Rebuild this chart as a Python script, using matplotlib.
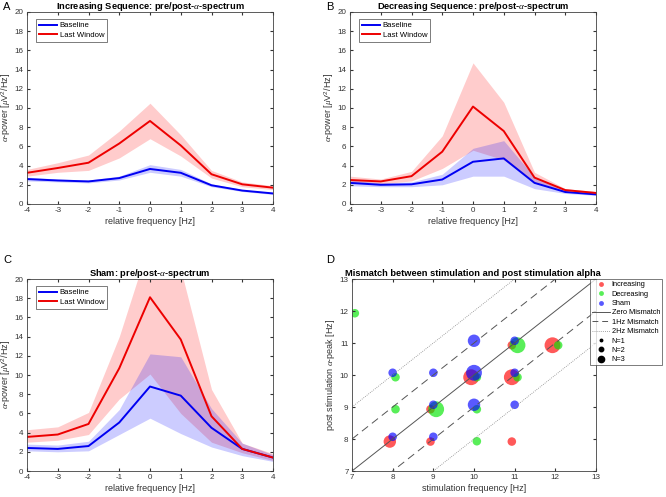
import matplotlib.pyplot as plt
import numpy as np
from matplotlib.lines import Line2D

# relative frequency axis shared by the three spectrum panels
freq = [-4, -3, -2, -1, 0, 1, 2, 3, 4]

# panel A - increasing sequence
inc_base = [2.6, 2.45, 2.35, 2.7, 3.65, 3.25, 1.95, 1.4, 1.1]
inc_base_lo = [2.4, 2.3, 2.2, 2.5, 3.3, 2.9, 1.8, 1.3, 1.0]
inc_base_hi = [2.8, 2.6, 2.5, 2.9, 4.1, 3.6, 2.1, 1.5, 1.2]
inc_last = [3.25, 3.75, 4.3, 6.3, 8.65, 6.1, 3.1, 2.05, 1.7]
inc_last_lo = [2.9, 3.3, 3.5, 4.8, 6.8, 5.0, 2.7, 1.8, 1.5]
inc_last_hi = [3.6, 4.3, 5.1, 7.6, 10.5, 7.2, 3.5, 2.3, 1.9]

# panel B - decreasing sequence
dec_base = [2.2, 2.0, 2.05, 2.55, 4.4, 4.75, 2.2, 1.25, 1.0]
dec_base_lo = [1.9, 1.8, 1.8, 2.0, 2.9, 2.9, 1.6, 1.1, 0.9]
dec_base_hi = [2.5, 2.2, 2.3, 3.1, 5.8, 6.6, 2.8, 1.4, 1.1]
dec_last = [2.5, 2.35, 2.9, 5.45, 10.15, 7.6, 2.75, 1.45, 1.15]
dec_last_lo = [2.2, 2.1, 2.4, 3.7, 5.6, 4.6, 2.2, 1.3, 1.0]
dec_last_hi = [2.9, 2.6, 3.4, 7.1, 14.7, 10.6, 3.3, 1.6, 1.3]

# panel C - sham
sham_base = [2.4, 2.3, 2.6, 5.05, 8.8, 7.85, 4.5, 2.3, 1.4]
sham_base_lo = [2.1, 2.0, 2.1, 3.8, 5.5, 3.9, 2.5, 1.6, 1.0]
sham_base_hi = [2.8, 2.7, 3.1, 6.4, 12.2, 11.9, 6.5, 2.9, 1.7]
sham_last = [3.55, 3.8, 4.9, 10.7, 18.1, 13.7, 5.7, 2.3, 1.4]
sham_last_lo = [3.0, 3.2, 3.8, 7.5, 10.1, 6.0, 3.0, 1.9, 1.1]
sham_last_hi = [4.3, 4.6, 6.1, 14.0, 24.0, 21.0, 8.5, 2.9, 1.8]

# panel D - stimulation vs post-stimulation peak (x, y, N)
inc_x = [7.93, 8.93, 8.93, 9.93, 10.93, 10.93, 11.93, 10.93]
inc_y = [7.92, 7.92, 8.93, 9.93, 9.93, 10.93, 10.93, 7.92]
inc_n = [2, 1, 1, 3, 3, 1, 3, 1]
dec_x = [7.07, 8.07, 8.07, 9.07, 10.07, 10.07, 10.07, 11.07, 11.07, 12.07]
dec_y = [11.93, 9.93, 8.93, 8.93, 9.93, 8.93, 7.93, 10.93, 9.93, 10.93]
dec_n = [1, 1, 1, 3, 1, 1, 1, 3, 1, 1]
sham_x = [8, 8, 9, 9, 9, 10, 10, 10, 11, 11, 11]
sham_y = [10.07, 8.07, 10.07, 9.07, 8.07, 11.07, 10.07, 9.07, 11.07, 10.07, 9.07]
sham_n = [1, 1, 1, 1, 1, 2, 3, 2, 1, 1, 1]

plt.rcParams['font.family'] = ['Liberation Sans', 'DejaVu Sans']
plt.rcParams['mathtext.fontset'] = 'custom'
plt.rcParams['mathtext.rm'] = 'Liberation Sans'
plt.rcParams['mathtext.it'] = 'Liberation Serif:italic'
plt.rcParams['mathtext.bf'] = 'Liberation Sans:bold'
plt.rcParams['axes.unicode_minus'] = False

fig = plt.figure(figsize=(6.66, 4.97), dpi=100)
W, H = 666.0, 497.0

TICK_FS = 5.8
LAB_FS = 6.5
TITLE_FS = 6.7
LEG_FS = 5.6
TXT = '#333333'


def add_ax(l, t, r, b):
    return fig.add_axes([l / W, 1 - b / H, (r - l) / W, (b - t) / H])


def style(ax):
    ax.tick_params(direction='in', labelsize=TICK_FS, colors=TXT, length=2.5,
                   top=True, right=True, pad=2.5)
    for s in ax.spines.values():
        s.set_color('#404040')
        s.set_linewidth(0.6)


ylab = r'$\alpha$-power [$\mu$V$^2$/Hz]'


def spectrum(ax, title, base, blo, bhi, last, llo, lhi):
    ax.fill_between(freq, llo, lhi, color=(1, 0, 0), alpha=0.2, lw=0)
    ax.fill_between(freq, blo, bhi, color=(0, 0, 1), alpha=0.2, lw=0)
    ax.plot(freq, base, color=(0, 0, 0.95), lw=1.4, label='Baseline')
    ax.plot(freq, last, color=(0.93, 0, 0), lw=1.4, label='Last Window')
    ax.set_xlim(-4, 4)
    ax.set_ylim(0, 20)
    ax.set_xticks(freq)
    ax.set_yticks(np.arange(0, 21, 2))
    ax.set_xlabel('relative frequency [Hz]', fontsize=LAB_FS, color=TXT, labelpad=2)
    ax.set_ylabel(ylab, fontsize=LAB_FS, color=TXT, labelpad=1.5)
    ax.set_title(title, fontsize=TITLE_FS, fontweight='bold', pad=2.5)
    leg = ax.legend(loc='upper left', fontsize=LEG_FS, frameon=True, fancybox=False,
                    borderpad=0.4, handlelength=2.3, handletextpad=0.4, labelspacing=0.3,
                    bbox_to_anchor=(0.035, 0.965), borderaxespad=0)
    leg.get_frame().set_edgecolor('#404040')
    leg.get_frame().set_linewidth(0.6)
    style(ax)


axA = add_ax(27, 12, 273, 204)
spectrum(axA, r'Increasing Sequence: pre/post-$\alpha$-spectrum',
         inc_base, inc_base_lo, inc_base_hi, inc_last, inc_last_lo, inc_last_hi)
axB = add_ax(350, 12, 596, 204)
spectrum(axB, r'Decreasing Sequence: pre/post-$\alpha$-spectrum',
         dec_base, dec_base_lo, dec_base_hi, dec_last, dec_last_lo, dec_last_hi)
axC = add_ax(27, 279, 273, 471)
spectrum(axC, r'Sham: pre/post-$\alpha$-spectrum',
         sham_base, sham_base_lo, sham_base_hi, sham_last, sham_last_lo, sham_last_hi)

# panel D
axD = add_ax(352, 279, 596, 471)
xs = np.array([7, 13])
axD.plot(xs, xs, color='#555555', lw=0.7)
axD.plot(xs, xs + 1, color='#555555', lw=0.7, ls=(0, (8, 5)))
axD.plot(xs, xs - 1, color='#555555', lw=0.7, ls=(0, (8, 5)))
axD.plot(xs, xs + 2, color='#888888', lw=0.6, ls=(0, (1, 1.5)))
axD.plot(xs, xs - 2, color='#888888', lw=0.6, ls=(0, (1, 1.5)))

size = {1: 38, 2: 80, 3: 130}
axD.scatter(inc_x, inc_y, s=[size[n] for n in inc_n], color=(1, 0, 0), alpha=0.65, lw=0)
axD.scatter(dec_x, dec_y, s=[size[n] for n in dec_n], color=(0, 0.9, 0), alpha=0.65, lw=0)
axD.scatter(sham_x, sham_y, s=[size[n] for n in sham_n], color=(0, 0, 1), alpha=0.65, lw=0)
axD.set_xlim(7, 13)
axD.set_ylim(7, 13)
axD.set_xticks(range(7, 14))
axD.set_yticks(range(7, 14))
axD.set_xlabel('stimulation frequency [Hz]', fontsize=LAB_FS, color=TXT, labelpad=2)
axD.set_ylabel(r'post stimulation $\alpha$-peak [Hz]', fontsize=LAB_FS, color=TXT, labelpad=1.5)
axD.set_title('Mismatch between stimulation and post stimulation alpha',
              fontsize=TITLE_FS, fontweight='bold', pad=2.5, loc='left', x=-0.03)
style(axD)

handles = [
    Line2D([], [], ls='', marker='o', ms=3.5, color=(1, 0, 0), alpha=0.65, mew=0),
    Line2D([], [], ls='', marker='o', ms=3.5, color=(0, 0.9, 0), alpha=0.65, mew=0),
    Line2D([], [], ls='', marker='o', ms=3.5, color=(0, 0, 1), alpha=0.65, mew=0),
    Line2D([], [], color='#555555', lw=0.7),
    Line2D([], [], color='#555555', lw=0.7, ls=(0, (6, 4))),
    Line2D([], [], color='#888888', lw=0.6, ls=(0, (1, 1.5))),
    Line2D([], [], ls='', marker='o', ms=1.8, color='k'),
    Line2D([], [], ls='', marker='o', ms=3.2, color='k'),
    Line2D([], [], ls='', marker='o', ms=4.5, color='k'),
]
labels = ['Increasing', 'Decreasing', 'Sham', 'Zero Mismatch', '1Hz Mismatch',
          '2Hz Mismatch', 'N=1', 'N=2', 'N=3']
legD = axD.legend(handles, labels, loc='upper left', bbox_to_anchor=(0.975, 1.0),
                  fontsize=5.3, frameon=True, fancybox=False, borderpad=0.3,
                  labelspacing=0.3, handlelength=2.4, handletextpad=0.25, borderaxespad=0)
legD.get_frame().set_edgecolor('#404040')
legD.get_frame().set_linewidth(0.6)

# panel letters
for lab, x, y in [('A', 3, 7), ('B', 326, 7), ('C', 3, 260), ('D', 326, 260)]:
    fig.text(x / W, 1 - y / H, lab, fontsize=8, va='center', ha='left')

fig.savefig('out.png', dpi=100)
